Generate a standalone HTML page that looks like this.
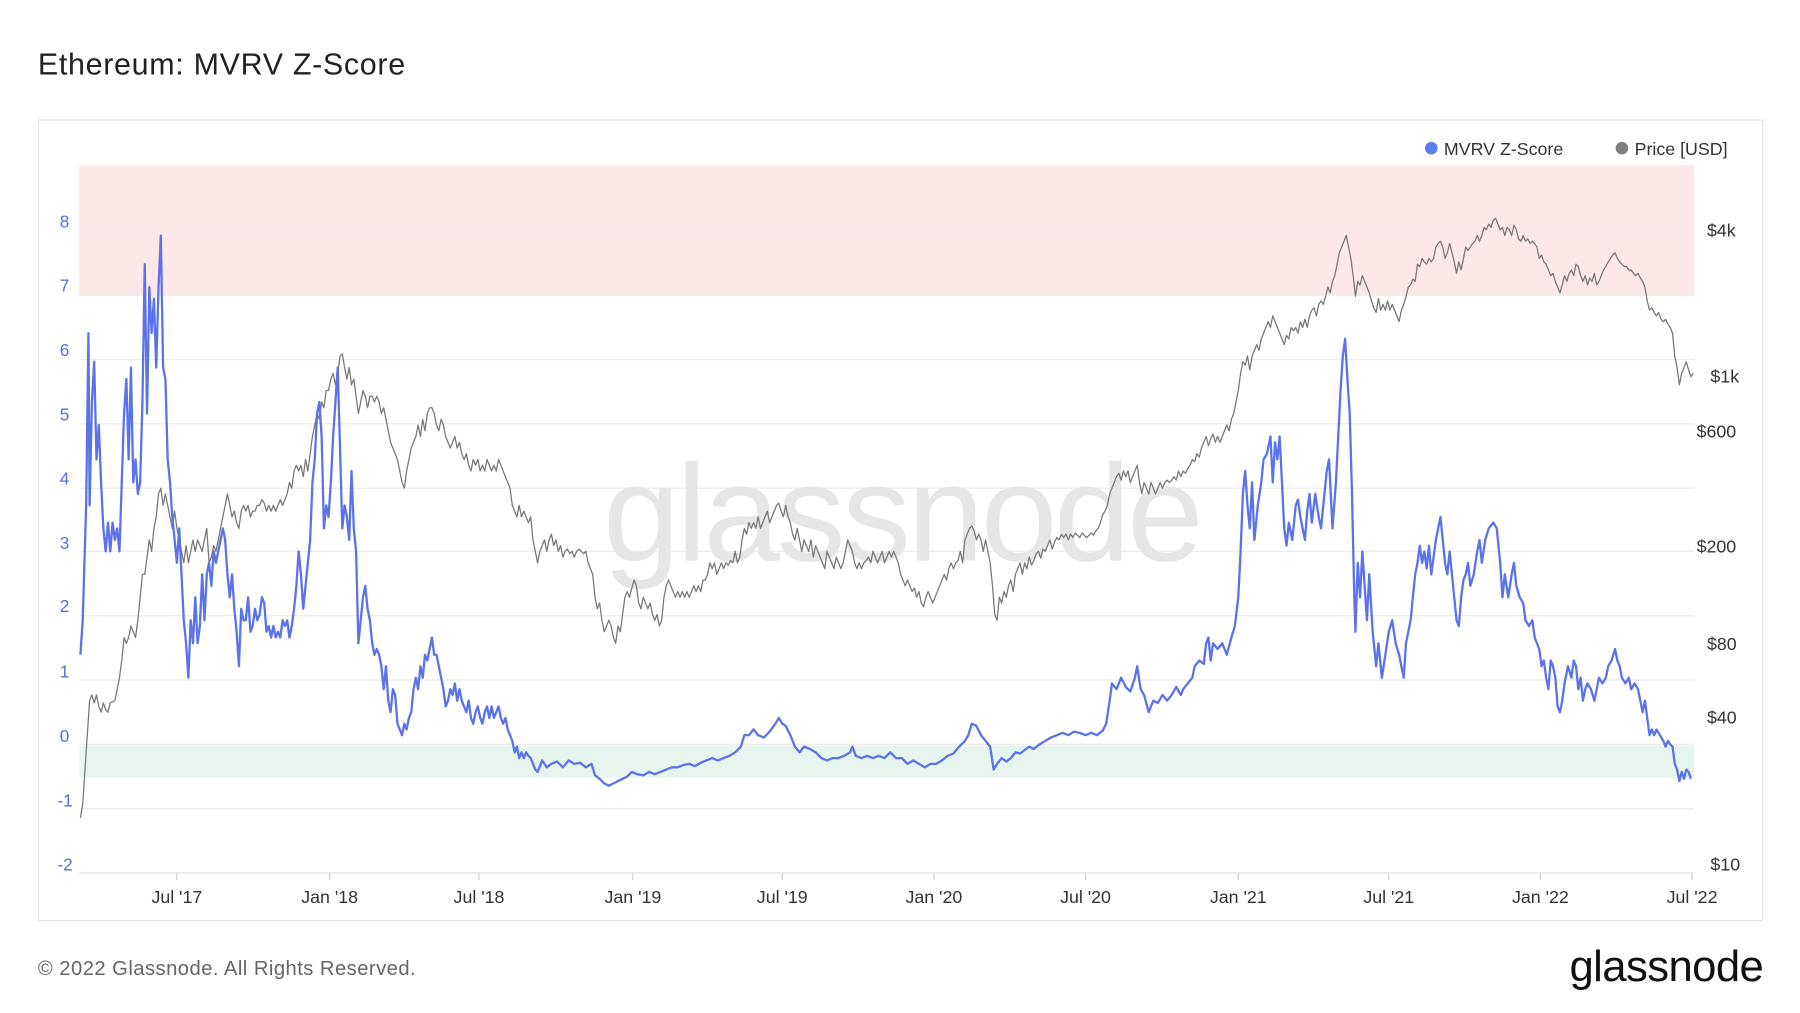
<!DOCTYPE html>
<html><head><meta charset="utf-8"><style>
html,body{margin:0;padding:0;background:#fff;}
svg{display:block;font-family:"Liberation Sans",sans-serif;}
</style></head><body>
<svg width="1800" height="1013" viewBox="0 0 1567 881.9" preserveAspectRatio="none" xmlns="http://www.w3.org/2000/svg">
<rect x="0" y="0" width="1567" height="882" fill="#fff"/>
<text x="33" y="65" font-size="26.5" letter-spacing="0.6" fill="#222">Ethereum: MVRV Z-Score</text>
<rect x="33.5" y="104.5" width="1501" height="697" fill="#fff" stroke="#e2e2e2" stroke-width="1"/>
<rect x="69" y="144" width="1406" height="113" fill="#fde7e7"/>
<rect x="69" y="649" width="1406" height="28" fill="#e6f6ee"/>
<g stroke="#ececec" stroke-width="1">
<line x1="69" y1="200" x2="1475" y2="200"/><line x1="69" y1="257" x2="1475" y2="257"/>
<line x1="69" y1="313" x2="1475" y2="313"/><line x1="69" y1="369" x2="1475" y2="369"/>
<line x1="69" y1="425" x2="1475" y2="425"/><line x1="69" y1="480" x2="1475" y2="480"/>
<line x1="69" y1="536" x2="1475" y2="536"/><line x1="69" y1="592" x2="1475" y2="592"/>
<line x1="69" y1="648" x2="1475" y2="648"/><line x1="69" y1="704" x2="1475" y2="704"/>
</g>
<line x1="69" y1="760" x2="1475" y2="760" stroke="#ddd"/>
<g stroke="#ccc">
<line x1="154" y1="760" x2="154" y2="766"/><line x1="287" y1="760" x2="287" y2="766"/><line x1="417" y1="760" x2="417" y2="766"/><line x1="551" y1="760" x2="551" y2="766"/><line x1="681" y1="760" x2="681" y2="766"/><line x1="813" y1="760" x2="813" y2="766"/><line x1="945" y1="760" x2="945" y2="766"/><line x1="1078" y1="760" x2="1078" y2="766"/><line x1="1209" y1="760" x2="1209" y2="766"/><line x1="1341" y1="760" x2="1341" y2="766"/><line x1="1473" y1="760" x2="1473" y2="766"/>
</g>
<text x="785" y="488" font-size="120" fill="#e6e6e6" text-anchor="middle" letter-spacing="-3">glassnode</text>
<g font-size="15" fill="#5b6ee1">
<text x="52" y="198">8</text><text x="52" y="254">7</text><text x="52" y="310">6</text><text x="52" y="366">5</text><text x="52" y="422">4</text><text x="52" y="478">3</text><text x="52" y="533">2</text><text x="52" y="590">1</text><text x="52" y="646">0</text><text x="50" y="702">-1</text><text x="50" y="758">-2</text>
</g>
<g font-size="15.5" fill="#333">
<text x="1486" y="206">$4k</text><text x="1489" y="333">$1k</text><text x="1477" y="381">$600</text><text x="1477" y="481">$200</text><text x="1486" y="566">$80</text><text x="1486" y="630">$40</text><text x="1489" y="758">$10</text>
</g>
<g font-size="15.5" fill="#333" text-anchor="middle">
<text x="154" y="786">Jul '17</text><text x="287" y="786">Jan '18</text><text x="417" y="786">Jul '18</text><text x="551" y="786">Jan '19</text><text x="681" y="786">Jul '19</text><text x="813" y="786">Jan '20</text><text x="945" y="786">Jul '20</text><text x="1078" y="786">Jan '21</text><text x="1209" y="786">Jul '21</text><text x="1341" y="786">Jan '22</text><text x="1473" y="786">Jul '22</text>
</g>
<circle cx="1246" cy="129" r="5.5" fill="#5b7bf0"/>
<text x="1257" y="135" font-size="15.5" fill="#333">MVRV Z-Score</text>
<circle cx="1412" cy="129" r="5.5" fill="#7f7f7f"/>
<text x="1423" y="135" font-size="15.5" fill="#333">Price [USD]</text>
<polyline fill="none" stroke="#777" stroke-width="1.1" stroke-linejoin="round" points="70,712 72,700 74,670 76,640 78,610 80,605 82,612 84,605 86,615 88,620 90,612 92,618 94,620 96,612 100,610 104,590 106,575 108,555 110,560 112,555 114,545 116,550 118,555 120,540 122,520 124,500 126,500 128,485 130,470 132,480 134,460 136,450 138,430 140,425 142,440 144,430 146,440 148,450 150,460 152,445 154,460 156,470 158,480 160,490 162,475 164,490 166,480 168,470 170,480 172,470 174,475 176,480 178,470 180,460 182,490 184,485 186,475 188,480 190,470 192,460 194,450 196,440 198,430 200,440 202,450 204,445 206,455 208,460 210,445 212,440 214,445 216,440 218,450 220,445 222,445 224,440 226,440 228,435 230,438 232,445 234,440 236,445 238,440 240,445 242,440 244,435 246,440 248,435 250,430 252,420 254,425 256,410 258,405 260,410 262,405 264,415 266,400 268,410 270,395 272,380 274,370 276,360 278,365 280,350 282,355 284,340 286,340 288,330 290,325 292,335 294,325 296,310 298,308 300,320 302,330 304,320 306,335 308,330 310,345 312,360 314,350 316,340 318,345 320,355 322,345 324,345 326,350 328,345 330,350 332,360 334,355 336,365 338,375 340,385 342,390 344,395 346,400 348,410 350,420 352,425 354,410 356,400 358,390 360,385 362,380 364,370 366,380 368,365 370,375 372,360 374,355 376,355 378,360 380,370 382,375 384,365 386,370 388,380 390,385 392,390 394,385 396,380 398,390 400,385 402,395 404,400 406,395 408,405 410,410 412,400 414,405 416,400 418,410 420,405 422,410 424,400 426,405 428,410 430,405 432,410 434,400 436,405 438,410 440,415 442,420 444,425 446,440 448,445 450,450 452,440 454,450 456,445 458,450 460,455 462,450 464,470 466,480 468,490 470,480 472,475 474,470 476,480 478,470 480,465 482,475 484,470 486,480 488,475 490,485 492,480 494,478 496,482 498,480 500,485 502,480 504,478 506,480 508,482 510,480 512,490 514,495 516,500 518,520 520,530 522,525 524,540 526,550 528,545 530,540 532,545 534,555 536,560 538,545 540,550 542,535 544,520 546,515 548,520 550,512 552,505 554,510 556,525 558,530 560,520 562,525 564,530 566,525 568,535 570,540 572,535 574,545 576,540 578,520 580,510 582,505 584,510 586,515 588,520 590,515 592,520 594,515 596,520 598,515 600,520 602,515 604,510 606,515 608,510 610,515 612,505 614,505 616,500 618,490 620,495 622,490 624,500 626,495 628,490 630,495 632,490 634,492 636,488 638,490 640,480 642,490 644,485 646,470 648,460 650,465 652,455 654,460 656,455 658,460 660,450 662,460 664,455 666,450 668,445 670,455 672,450 674,445 676,440 678,438 680,445 682,450 684,440 686,450 688,455 690,465 692,470 694,460 696,470 698,480 700,470 702,475 704,480 706,470 708,485 710,475 712,480 714,485 716,490 718,495 720,480 722,485 724,490 726,495 728,485 730,490 732,495 734,490 736,480 738,470 740,475 742,480 744,490 746,495 748,490 750,495 752,490 754,488 756,485 758,490 760,480 762,485 764,490 766,485 768,480 770,490 772,485 774,480 776,485 778,480 780,485 782,490 784,500 786,505 788,510 790,505 792,510 794,515 796,512 798,520 800,515 802,525 804,528 806,520 808,515 810,520 812,525 814,520 816,515 818,510 820,505 822,500 824,505 826,495 828,490 830,495 832,490 834,488 836,480 838,490 840,470 842,465 844,460 846,458 848,462 850,470 852,465 854,470 856,480 858,470 860,480 862,490 864,510 866,535 868,540 870,520 872,525 874,515 876,520 878,510 880,505 882,515 884,500 886,495 888,490 890,500 892,490 894,495 896,485 898,492 900,488 902,482 904,480 906,486 908,478 910,480 912,475 914,470 916,478 918,472 920,468 922,470 924,465 926,468 928,465 930,470 932,465 934,468 936,464 938,466 940,468 942,464 944,466 946,468 948,466 950,464 952,466 954,462 956,460 958,455 960,448 962,445 964,440 966,430 968,425 970,420 972,415 974,412 976,418 978,410 980,415 982,410 984,420 986,415 988,410 990,405 992,420 994,430 996,420 998,425 1000,430 1002,420 1004,425 1006,430 1008,425 1010,420 1012,425 1014,420 1016,418 1018,420 1020,418 1022,415 1024,418 1026,410 1028,415 1030,410 1032,412 1034,408 1036,405 1038,400 1040,402 1042,395 1044,398 1046,390 1048,385 1050,380 1052,388 1054,382 1056,378 1058,385 1060,380 1062,385 1064,380 1066,375 1068,370 1070,375 1072,365 1074,360 1076,350 1078,340 1080,325 1082,315 1084,318 1086,310 1088,322 1090,310 1092,305 1094,300 1096,305 1098,295 1100,290 1102,285 1104,280 1106,285 1108,275 1110,280 1112,285 1114,290 1116,295 1118,300 1120,292 1122,295 1124,285 1126,288 1128,285 1130,290 1132,280 1134,285 1136,278 1138,285 1140,275 1142,270 1144,268 1146,275 1148,265 1150,262 1152,265 1154,258 1156,250 1158,255 1160,245 1162,240 1164,230 1166,220 1168,215 1170,210 1172,205 1174,215 1176,225 1178,240 1180,258 1182,245 1184,248 1186,240 1188,245 1190,250 1192,255 1194,262 1196,268 1198,272 1200,260 1202,270 1204,265 1206,270 1208,262 1210,270 1212,265 1214,270 1216,275 1218,280 1220,270 1222,265 1224,258 1226,250 1228,248 1230,243 1232,245 1234,230 1236,232 1238,225 1240,228 1242,230 1244,225 1246,228 1248,225 1250,215 1252,212 1254,210 1256,215 1258,225 1260,220 1262,212 1264,220 1266,228 1268,238 1270,228 1272,235 1274,225 1276,215 1278,218 1280,215 1282,212 1284,210 1286,205 1288,210 1290,205 1292,198 1294,200 1296,195 1298,198 1300,192 1302,190 1304,195 1306,200 1308,198 1310,205 1312,198 1314,200 1316,205 1318,196 1320,200 1322,208 1324,210 1326,205 1328,210 1330,208 1332,212 1334,210 1336,212 1338,215 1340,225 1342,222 1344,228 1346,230 1348,235 1350,240 1352,238 1354,245 1356,250 1358,255 1360,248 1362,240 1364,245 1366,238 1368,235 1370,240 1372,230 1374,232 1376,240 1378,245 1380,240 1382,248 1384,242 1386,245 1388,238 1390,248 1392,245 1394,240 1396,235 1398,232 1400,228 1402,225 1404,222 1406,220 1408,225 1410,228 1412,230 1414,232 1416,232 1418,235 1420,235 1422,238 1424,240 1426,238 1428,242 1430,245 1432,250 1434,262 1436,270 1438,268 1440,272 1442,275 1444,272 1446,278 1448,280 1450,278 1452,282 1454,285 1456,290 1458,310 1460,320 1462,335 1464,325 1466,320 1468,315 1470,322 1472,328 1474,325"/>
<polyline fill="none" stroke="#5b73ea" stroke-width="2" stroke-linejoin="round" points="70,570 72,540 75,440 77,290 78,440 80,350 82,315 84,400 86,370 88,420 90,460 92,480 94,455 96,480 98,455 100,470 102,460 104,480 106,420 108,360 110,330 112,400 114,320 116,420 118,400 120,430 122,420 124,350 126,230 128,360 130,250 132,290 134,260 136,320 138,250 140,205 142,320 144,330 146,400 148,420 150,450 152,470 154,490 156,460 158,500 160,540 162,560 164,590 166,540 168,560 170,520 172,560 174,545 176,500 178,540 180,500 182,490 184,510 186,480 188,490 190,480 192,470 194,460 196,470 198,500 200,520 202,500 204,530 206,550 208,580 210,530 212,540 214,540 216,520 218,550 220,545 222,530 224,540 226,535 228,520 230,525 232,550 234,545 236,555 238,545 240,555 242,550 244,555 246,540 248,545 250,540 252,555 254,545 256,530 258,510 260,480 262,500 264,530 266,510 268,490 270,470 272,420 274,400 276,360 278,350 280,380 282,460 284,440 286,450 288,420 290,380 292,350 294,320 296,390 298,460 300,440 302,450 304,470 306,410 308,460 310,480 312,560 314,540 316,520 318,510 320,530 322,540 324,560 326,570 328,565 330,570 332,580 334,600 336,580 338,610 340,620 342,600 344,605 346,630 348,635 350,640 352,630 354,635 356,625 358,620 360,600 362,590 364,600 366,580 368,590 370,570 372,575 374,565 376,555 378,570 380,570 382,580 384,590 386,600 388,615 390,610 392,600 394,605 396,595 398,610 400,600 402,610 404,615 406,620 408,610 410,625 412,630 414,620 416,615 418,625 420,630 422,620 424,615 426,625 428,615 430,625 432,620 434,615 436,625 438,630 440,625 442,635 444,640 446,645 448,655 450,650 452,660 454,655 456,660 458,655 460,658 462,660 464,665 466,670 468,672 472,662 476,668 480,665 485,663 490,668 495,662 500,665 505,664 510,668 515,665 518,675 522,678 526,682 530,684 534,682 538,680 542,678 546,676 550,672 555,674 560,675 565,672 570,674 575,672 580,670 585,668 590,668 595,666 600,665 605,667 610,664 615,662 620,660 625,662 630,660 635,658 640,655 645,650 648,640 652,640 656,635 660,640 665,642 670,637 675,630 678,625 681,630 684,632 688,640 692,650 696,655 700,650 705,652 710,655 715,660 720,662 725,660 730,660 735,658 740,655 742,650 745,658 750,660 755,658 760,660 765,658 770,660 775,655 780,660 785,660 790,665 795,662 800,665 805,668 810,665 815,665 820,662 825,658 830,656 835,650 840,645 843,640 846,630 850,632 854,640 858,645 862,650 865,670 868,665 872,660 876,663 880,660 884,655 888,656 892,653 896,650 900,652 905,648 910,645 915,642 920,640 925,638 930,640 935,637 940,638 945,640 950,638 955,640 960,636 963,630 966,610 968,595 972,600 976,590 980,598 984,602 988,590 990,580 993,600 996,605 1000,620 1004,610 1008,612 1012,605 1016,610 1020,605 1024,598 1028,605 1030,600 1034,595 1038,590 1040,580 1044,575 1048,578 1050,560 1052,555 1054,575 1056,560 1060,565 1064,560 1068,570 1072,555 1075,545 1078,520 1080,480 1082,430 1084,410 1086,440 1088,460 1090,420 1092,470 1095,440 1098,420 1100,400 1103,395 1106,380 1108,420 1110,385 1112,400 1114,380 1116,420 1118,460 1120,475 1122,455 1125,470 1128,440 1130,435 1132,450 1134,460 1136,470 1138,445 1140,430 1142,455 1145,430 1148,450 1150,460 1152,440 1155,410 1157,400 1160,460 1163,420 1165,380 1167,340 1169,310 1171,295 1173,330 1175,360 1177,430 1179,520 1180,550 1182,490 1184,520 1186,480 1188,510 1190,540 1192,500 1195,550 1198,580 1200,560 1203,590 1206,570 1209,550 1212,540 1215,560 1218,570 1220,580 1222,590 1224,560 1226,550 1228,540 1230,520 1232,500 1234,490 1236,475 1238,490 1240,480 1242,495 1244,475 1246,500 1248,485 1250,470 1252,460 1254,450 1256,470 1258,490 1260,500 1262,480 1265,510 1268,540 1270,545 1272,520 1274,505 1276,500 1278,490 1280,510 1283,500 1286,480 1288,470 1290,490 1293,470 1296,460 1300,455 1303,460 1306,490 1308,520 1310,500 1313,520 1316,500 1318,490 1320,510 1323,520 1326,525 1328,540 1331,545 1334,540 1336,555 1338,560 1340,565 1342,580 1344,575 1346,590 1348,600 1350,575 1352,580 1354,590 1356,615 1358,620 1360,610 1362,595 1365,580 1368,590 1370,575 1372,580 1374,600 1376,590 1378,610 1380,600 1382,595 1385,600 1388,610 1390,600 1392,590 1395,595 1398,590 1400,580 1403,575 1406,565 1408,575 1410,580 1412,590 1415,595 1418,590 1420,600 1423,595 1426,600 1428,610 1430,620 1432,610 1434,625 1436,640 1438,635 1440,640 1442,635 1445,640 1448,645 1450,650 1452,645 1454,648 1456,650 1458,665 1460,670 1462,680 1464,672 1466,678 1468,670 1470,672 1472,678"/>
<text x="33" y="849" font-size="17.6" letter-spacing="0.4" fill="#666">© 2022 Glassnode. All Rights Reserved.</text>
<text x="1535" y="854" font-size="38" fill="#111" text-anchor="end" letter-spacing="-0.5">glassnode</text>
</svg>
</body></html>
